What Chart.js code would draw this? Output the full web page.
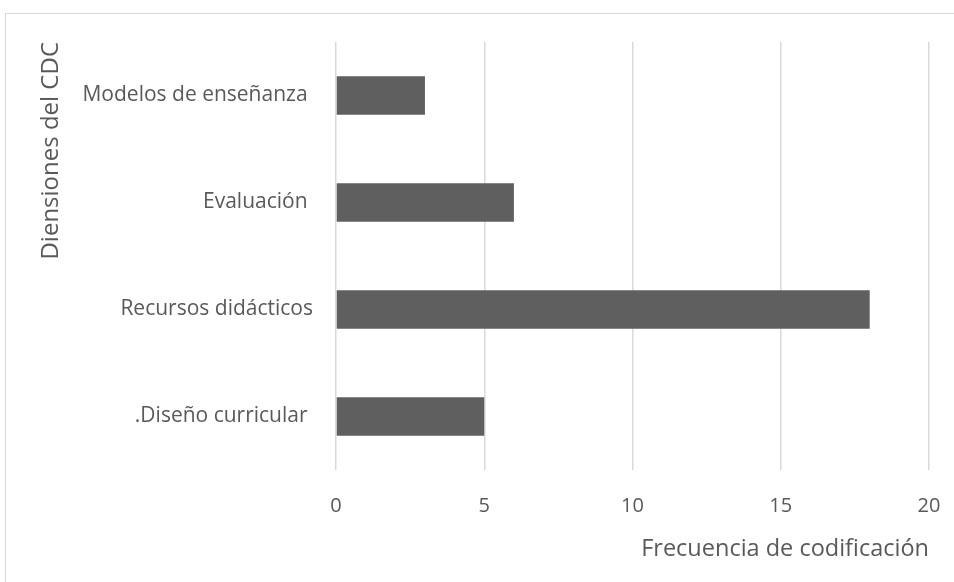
<!DOCTYPE html>
<html>
<head>
<meta charset="utf-8">
<script src="https://cdn.jsdelivr.net/npm/chart.js@4.4.0/dist/chart.umd.min.js"></script>
<style>
  html, body { margin: 0; padding: 0; background: #fff; overflow: hidden; }
  #frame { position: absolute; left: 5px; top: 13px; width: 1000px; height: 700px; border: 1px solid #d9d9d9; }
  #wrap { position: absolute; left: 0; top: 0; width: 954px; height: 582px; }
</style>
</head>
<body>
<div id="frame"></div>
<div id="wrap"><canvas id="chart"></canvas></div>
<script>
// categories listed top to bottom
const categories = ['Modelos de enseñanza ', 'Evaluación ', 'Recursos didácticos', '.Diseño curricular '];
const frecuencias = [3, 6, 18, 5];
const xTicks = [0, 5, 10, 15, 20];

const textColor = '#595959';
const gridColor = '#d9d9d9';
const fontFamily = "'Open Sans', sans-serif";

const config = {
    type: 'bar',
    data: {
        labels: categories,
        datasets: [{
            data: frecuencias,
            backgroundColor: '#5f5f5f',
            barPercentage: 0.36,
            categoryPercentage: 1.0
        }]
    },
    options: {
        indexAxis: 'y',
        responsive: false,
        animation: false,
        layout: { padding: { top: 42, right: 25, bottom: 18, left: 30 } },
        plugins: { legend: { display: false }, tooltip: { enabled: false } },
        scales: {
            x: {
                min: 0,
                max: 20,
                afterBuildTicks: function(scale) {
                    scale.ticks = xTicks.map(v => ({ value: v }));
                },
                afterFit: function(scale) { scale.height = 94; },
                border: { display: false },
                // invisible tick marks keep the labels away from the plot
                grid: { color: gridColor, lineWidth: 1.5, drawTicks: true, tickLength: 24, tickColor: 'rgba(0,0,0,0)' },
                ticks: { color: textColor, padding: 0, font: { family: fontFamily, size: 20 } },
                title: {
                    display: true,
                    text: 'Frecuencia de codificación',
                    align: 'end',
                    color: textColor,
                    padding: { top: 0, bottom: 1 },
                    font: { family: fontFamily, size: 23.5 }
                }
            },
            y: {
                afterFit: function(scale) { scale.width = 306; },
                border: { display: false },
                grid: { display: false, drawTicks: false },
                ticks: { color: textColor, padding: 23, font: { family: fontFamily, size: 21 } },
                title: {
                    display: true,
                    text: 'Diensiones del CDC',
                    align: 'end',
                    color: textColor,
                    padding: { top: 7, bottom: 0 },
                    font: { family: fontFamily, size: 24 }
                }
            }
        }
    }
};

const canvas = document.getElementById('chart');
canvas.width = 954;
canvas.height = 582;
new Chart(canvas, config);
</script>
</body>
</html>
